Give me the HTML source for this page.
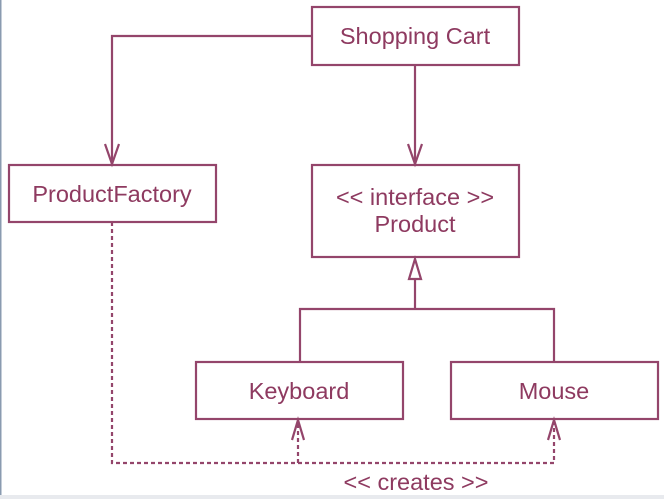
<!DOCTYPE html>
<html><head><style>
body{margin:0;background:#fff;}
svg{display:block}
text{font-family:"Liberation Sans",sans-serif;font-size:23.5px;fill:#8e3a60;text-anchor:middle}
</style></head><body>
<svg width="664" height="499" viewBox="0 0 664 499">
<rect x="0" y="0" width="664" height="499" fill="#fff"/>
<rect x="0" y="0" width="1.5" height="499" fill="#8a9bb0"/>
<rect x="0" y="495" width="664" height="4" fill="#e8eaee"/>
<g stroke="#94456b" stroke-width="2.2" fill="none">
<rect x="312" y="7" width="207" height="58" fill="#fff"/>
<rect x="9" y="165" width="207" height="57" fill="#fff"/>
<rect x="312" y="165" width="207" height="92" fill="#fff"/>
<rect x="196" y="362" width="207" height="57" fill="#fff"/>
<rect x="451" y="362" width="207" height="57" fill="#fff"/>
<polyline points="312,36 112,36 112,164"/>
<polyline points="105,144 112,164 119,144"/>
<line x1="415" y1="65" x2="415" y2="164"/>
<polyline points="408,144 415,164 422,144"/>
<polygon points="415,259 409,279 421,279"/>
<line x1="415" y1="279" x2="415" y2="309"/>
<polyline points="300,362 300,309 554,309 554,362"/>
<g stroke-dasharray="4,3">
<polyline points="112,222 112,463 554,463 554,421"/>
<line x1="298" y1="463" x2="298" y2="421"/>
</g>
<polyline points="292,440 298,420 304,440"/>
<polyline points="548,440 554,420 560,440"/>
</g>
<text x="415" y="44">Shopping Cart</text>
<text x="112" y="202">ProductFactory</text>
<text x="415" y="205">&lt;&lt; interface &gt;&gt;</text>
<text x="415" y="232">Product</text>
<text x="299" y="399">Keyboard</text>
<text x="554" y="399">Mouse</text>
<text x="416" y="490">&lt;&lt; creates &gt;&gt;</text>
</svg>
</body></html>
